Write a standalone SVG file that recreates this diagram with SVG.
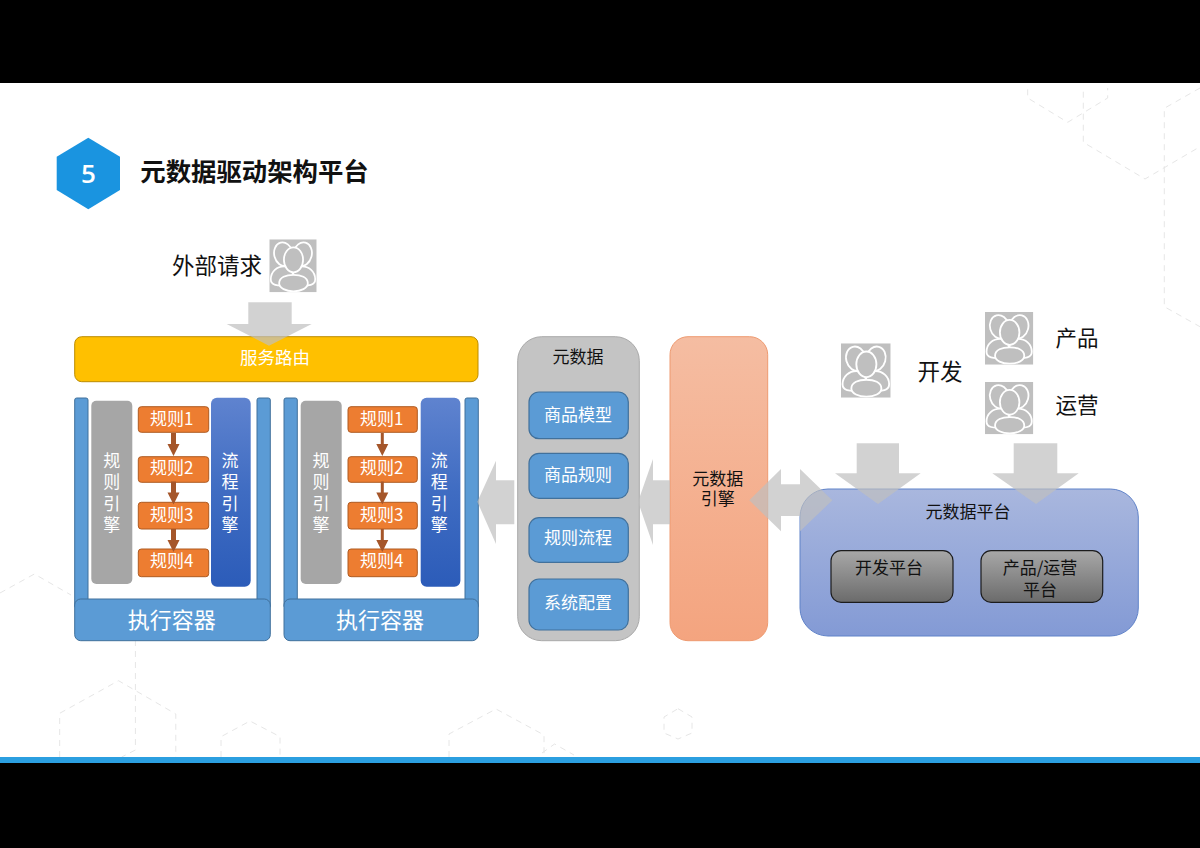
<svg xmlns="http://www.w3.org/2000/svg" xmlns:xlink="http://www.w3.org/1999/xlink" width="1200" height="848" viewBox="0 0 1200 848">
<style>
text{font-family:"Noto Sans CJK SC","Liberation Sans",sans-serif;text-anchor:middle;dominant-baseline:central}
.w{fill:#fff}.k{fill:#111}
.f17{font-size:17px}.f22{font-size:22px}
.deco{fill:none;stroke:#e6e6e6;stroke-width:1;stroke-dasharray:6 5}
.post{fill:#5b9bd5;stroke:#41719c;stroke-width:1}
.rule{fill:#ed7d31;stroke:#ae5a21;stroke-width:1}
.grey{fill:#a6a6a6}
.flow{fill:url(#gFlow)}
.meta{fill:#5b9bd5;stroke:#41719c;stroke-width:1.2}
.dark{fill:url(#gDark);stroke:#1c1c1c;stroke-width:1.2}
.big{fill:#bfbfbf;opacity:.7}
.small{fill:#a5562a}
</style>
<defs>
<linearGradient id="gFlow" x1="0" y1="0" x2="0" y2="1"><stop offset="0" stop-color="#5f83cf"/><stop offset=".5" stop-color="#3f6cc2"/><stop offset="1" stop-color="#2c5cb9"/></linearGradient>
<linearGradient id="gDark" x1="0" y1="0" x2="0" y2="1"><stop offset="0" stop-color="#a8a8a8"/><stop offset="1" stop-color="#6b6b6b"/></linearGradient>
<linearGradient id="gOrange" x1="0" y1="0" x2="0" y2="1"><stop offset="0" stop-color="#f5bda2"/><stop offset="1" stop-color="#f4a47f"/></linearGradient>
<linearGradient id="gPlat" x1="0" y1="0" x2="0" y2="1"><stop offset="0" stop-color="#a9b7de"/><stop offset="1" stop-color="#839ad5"/></linearGradient>
<symbol id="person" viewBox="0 0 48 53" preserveAspectRatio="none">
<rect width="48" height="53" fill="#bfbfbf"/>
<g fill="#bfbfbf" stroke="#fff" stroke-width="1.8">
<ellipse cx="14.5" cy="15" rx="9.5" ry="12" transform="rotate(-15 14.5 15)"/>
<ellipse cx="33.5" cy="15" rx="9.5" ry="12" transform="rotate(15 33.5 15)"/>
<path d="M1.5,40C1.5,32 8,27 15,27C20,27 24,31 24,37L18,46C8,47 1.5,46 1.5,40Z"/>
<path d="M46.5,40C46.5,32 40,27 33,27C28,27 24,31 24,37L30,46C40,47 46.5,46 46.5,40Z"/>
<ellipse cx="24.5" cy="20.5" rx="9.7" ry="12.5"/>
<path d="M10,44C10,38 17,35.5 24.5,35.5C32,35.5 39,38 39,44C39,49 32,52 24.5,52C17,52 10,49 10,44Z"/>
</g>
</symbol>
<path id="small" d="M-2.5,0H2.5V11H6L0,23L-6,11H-2.5Z"/>
<path id="small2" d="M-1.5,0H1.5V11H6L0,23L-6,11H-1.5Z"/>
</defs>

<rect width="1200" height="848" fill="#fff"/>
<g id="decor">
<path class="deco" d="M59.7,757V713.3L118.5,680.7L175.8,714V757"/>
<path class="deco" d="M0,593L34.4,574L71,595"/>
<path class="deco" d="M135.4,640V750L121.7,757"/>
<path class="deco" d="M221,757V736.7L250,721L280,736.7V757"/>
<path class="deco" d="M449,757V734L496,709L544,735V757"/>
<path class="deco" d="M542,753L554.6,744L574,755"/>
<path class="deco" d="M678,708.7L692,717V733L678,739L664,733V717Z"/>
<path class="deco" d="M1027.7,89.3V98L1067.7,122.3L1107.7,98V88"/>
<path class="deco" d="M1083.3,91.7V142.3L1145,179L1200,146.7"/>
<path class="deco" d="M1200,88L1164.3,108.3V306.7L1200,326.7"/>
</g>

<rect id="band-top" width="1200" height="83" fill="#000"/>
<rect id="band-line" y="757" width="1200" height="6" fill="#2b9fe0"/>
<rect id="band-bottom" y="763" width="1200" height="85" fill="#000"/>

<g id="title">
<path d="M88.3,137.7L120,156.7V190L88.3,209.3L56.7,190V156.7Z" fill="#1a94e0"/>
<text x="88.5" y="173" class="w" style="font-family:'Open Sans',sans-serif;font-weight:600;font-size:26px">5</text>
<text x="254.5" y="169.5" class="k" style="font-size:25.4px;font-weight:700">元数据驱动架构平台</text>
</g>

<g id="external">
<text x="217" y="263.5" class="k" style="font-size:22.5px">外部请求</text>
<use xlink:href="#person" href="#person" x="269.3" y="239.3" width="47.4" height="53"/>
</g>

<g id="router">
<rect x="74.7" y="336.7" width="403.3" height="45" rx="7" fill="#ffc000" stroke="#bc8c00"/>
<text x="275" y="356.5" class="w" style="font-size:17.5px">服务路由</text>
</g>

<g id="container-1">
<rect class="post" x="74.7" y="398" width="13.3" height="210" rx="2"/>
<rect class="post" x="257" y="398" width="13.3" height="210" rx="2"/>
<rect class="post" x="74.7" y="599" width="195.6" height="41.7" rx="6"/>
<text x="171.7" y="617.5" class="w f22">执行容器</text>
</g>
<g id="rule-engine-1">
<rect class="grey" x="91.3" y="400.7" width="41" height="183.3" rx="5"/>
<text class="w f17"><tspan x="111.7" y="458.5">规</tspan><tspan x="111.7" y="480">则</tspan><tspan x="111.7" y="501.5">引</tspan><tspan x="111.7" y="523">擎</tspan></text>
</g>
<g id="flow-engine-1">
<rect class="flow" x="211" y="397.7" width="39.7" height="189" rx="6"/>
<text class="w f17"><tspan x="230" y="458.5">流</tspan><tspan x="230" y="480">程</tspan><tspan x="230" y="501.5">引</tspan><tspan x="230" y="523">擎</tspan></text>
</g>
<g id="rule-1-1"><rect class="rule" x="138.3" y="406.7" width="70.4" height="25.6" rx="3"/><text x="171.7" y="417" class="w f17">规则1</text></g>
<g id="rule-1-2"><rect class="rule" x="138.3" y="456.7" width="70.4" height="25.6" rx="3"/><text x="171.7" y="466.5" class="w f17">规则2</text></g>
<g id="rule-1-3"><rect class="rule" x="138.3" y="502.3" width="70.4" height="26.7" rx="3"/><text x="171.7" y="513.5" class="w f17">规则3</text></g>
<g id="rule-1-4"><rect class="rule" x="138.3" y="549" width="70.4" height="27.7" rx="3"/><text x="171.7" y="559.5" class="w f17">规则4</text></g>

<g id="container-2">
<rect class="post" x="284" y="398" width="13.3" height="210" rx="2"/>
<rect class="post" x="465" y="398" width="13.3" height="210" rx="2"/>
<rect class="post" x="284" y="599" width="194.3" height="41.7" rx="6"/>
<text x="380" y="617.5" class="w f22">执行容器</text>
</g>
<g id="rule-engine-2">
<rect class="grey" x="300.7" y="400.7" width="41" height="183.3" rx="5"/>
<text class="w f17"><tspan x="321" y="458.5">规</tspan><tspan x="321" y="480">则</tspan><tspan x="321" y="501.5">引</tspan><tspan x="321" y="523">擎</tspan></text>
</g>
<g id="flow-engine-2">
<rect class="flow" x="420.7" y="397.7" width="39.7" height="189" rx="6"/>
<text class="w f17"><tspan x="439.3" y="458.5">流</tspan><tspan x="439.3" y="480">程</tspan><tspan x="439.3" y="501.5">引</tspan><tspan x="439.3" y="523">擎</tspan></text>
</g>
<g id="rule-2-1"><rect class="rule" x="348" y="406.7" width="69.3" height="25.6" rx="3"/><text x="381.7" y="417" class="w f17">规则1</text></g>
<g id="rule-2-2"><rect class="rule" x="348" y="456.7" width="69.3" height="25.6" rx="3"/><text x="381.7" y="466.5" class="w f17">规则2</text></g>
<g id="rule-2-3"><rect class="rule" x="348" y="502.3" width="69.3" height="26.7" rx="3"/><text x="381.7" y="513.5" class="w f17">规则3</text></g>
<g id="rule-2-4"><rect class="rule" x="348" y="549" width="69.3" height="27.7" rx="3"/><text x="381.7" y="559.5" class="w f17">规则4</text></g>

<g id="metadata">
<rect x="517.7" y="336.7" width="121.6" height="304" rx="24" fill="#c4c4c4" stroke="#a9a9a9"/>
<text x="578" y="355.5" class="k f17">元数据</text>
</g>
<g id="meta-model"><rect class="meta" x="529" y="392" width="99.3" height="46.7" rx="10"/><text x="578" y="413" class="w f17">商品模型</text></g>
<g id="meta-rule"><rect class="meta" x="529" y="453.3" width="99.3" height="45" rx="10"/><text x="578" y="473" class="w f17">商品规则</text></g>
<g id="meta-flow"><rect class="meta" x="529" y="517.7" width="99.3" height="44.6" rx="10"/><text x="578" y="536.5" class="w f17">规则流程</text></g>
<g id="meta-config"><rect class="meta" x="529" y="579" width="99.3" height="51" rx="10"/><text x="578" y="601.5" class="w f17">系统配置</text></g>

<g id="meta-engine">
<rect x="670" y="336.7" width="97.7" height="304" rx="18" fill="url(#gOrange)" stroke="#ee9a70"/>
<text class="k f17"><tspan x="717.7" y="477">元数据</tspan><tspan x="717.7" y="496.5">引擎</tspan></text>
</g>

<g id="meta-platform">
<rect x="800" y="489" width="338.3" height="147" rx="28" fill="url(#gPlat)" stroke="#5f82c8"/>
<text x="968" y="510.5" class="k f17">元数据平台</text>
</g>
<g id="dev-platform"><rect class="dark" x="831" y="550.7" width="122" height="51.6" rx="10"/><text x="889" y="566" class="k f17">开发平台</text></g>
<g id="ops-platform"><rect class="dark" x="981" y="550.7" width="121.7" height="51.6" rx="10"/><text class="k f17"><tspan x="1040" y="565.5">产品/运营</tspan><tspan x="1040" y="588">平台</tspan></text></g>

<g id="dev"><use xlink:href="#person" href="#person" x="841" y="343.3" width="49.7" height="54.4"/><text x="940" y="369.5" class="k" style="font-size:22.5px">开发</text></g>
<g id="product"><use xlink:href="#person" href="#person" x="985" y="312" width="48.3" height="52.7"/><text x="1077" y="336.5" class="k" style="font-size:21.5px">产品</text></g>
<g id="ops"><use xlink:href="#person" href="#person" x="985" y="382" width="48.3" height="52.3"/><text x="1077" y="403.5" class="k" style="font-size:21.5px">运营</text></g>

<g id="connectors">
<path class="big" d="M248.3,302.3H291.7V324H311.7L269,345.7L226.7,324H248.3Z"/>
<path class="big" d="M856.7,443.3H899V473.3H920.7L878,504L835,473.3H856.7Z"/>
<path class="big" d="M1013.7,443.3H1057.3V473.3H1078.7L1036,504L992.3,473.3H1013.7Z"/>
<path class="big" d="M477.3,501.7L496,460.7V480.3H514.3V524.3H496V544Z"/>
<path class="big" d="M638,501.7L653,459V480.3H670V524.3H653V545Z"/>
<path class="big" d="M749.3,500.3L781,469V484.3H800V469L832.3,500.3L800,531.3V516H781V531.3Z"/>
<g class="small">
<use xlink:href="#small" href="#small" x="173.5" y="433"/>
<use xlink:href="#small" href="#small" x="173.5" y="481.5"/>
<use xlink:href="#small" href="#small" x="173.5" y="529"/>
<use xlink:href="#small2" href="#small2" x="382.3" y="433"/>
<use xlink:href="#small2" href="#small2" x="382.3" y="481.5"/>
<use xlink:href="#small2" href="#small2" x="382.3" y="529"/>
</g>
</g>
</svg>
